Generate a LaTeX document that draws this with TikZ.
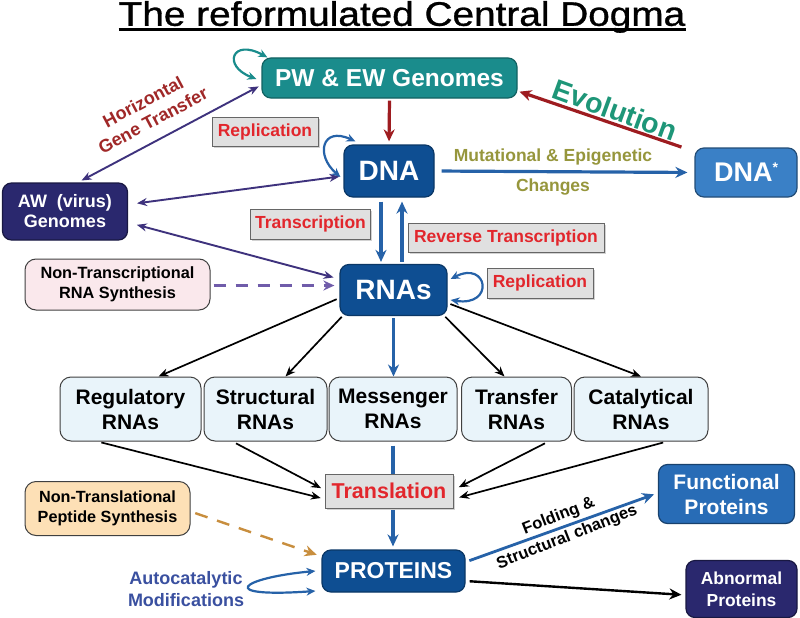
\documentclass[tikz,border=0pt]{standalone}
\usepackage{fontspec}
\setmainfont{Liberation Sans}
\newfontfamily\titlefont[FakeBold=0.9]{Liberation Sans}
\usetikzlibrary{arrows.meta,shadows}
\definecolor{tealc}{RGB}{26,140,140}
\definecolor{dblue}{RGB}{14,78,146}
\definecolor{lblue}{RGB}{58,128,198}
\definecolor{fblue}{RGB}{40,108,182}
\definecolor{navyc}{RGB}{42,40,110}
\definecolor{arrowblue}{RGB}{38,98,168}
\definecolor{darkredc}{RGB}{158,28,32}
\definecolor{purpc}{RGB}{62,50,125}
\definecolor{dashpurp}{RGB}{112,92,170}
\definecolor{dashor}{RGB}{200,142,62}
\definecolor{redtxt}{RGB}{226,38,44}
\definecolor{hgtc}{RGB}{160,40,40}
\definecolor{evoc}{RGB}{30,150,120}
\definecolor{olivec}{RGB}{150,150,60}
\definecolor{autoc}{RGB}{58,80,160}
\definecolor{rnafill}{RGB}{233,244,250}
\definecolor{pinkfill}{RGB}{250,232,236}
\definecolor{peachfill}{RGB}{253,224,182}
\begin{document}
\begin{tikzpicture}[x=1pt,y=-1pt,
  box/.style={draw, rounded corners=9pt, line width=1.2pt, text=white, align=center, inner sep=0pt},
  lab/.style={draw=black!60, fill=black!12, text=redtxt, font=\bfseries\fontsize{17.5}{20}\selectfont, line width=0.8pt, drop shadow={opacity=0.35,shadow xshift=1.8pt,shadow yshift=-1.8pt}, minimum height=29pt, inner sep=0pt},
  rbox/.style={draw=black!75, fill=rnafill, rounded corners=11pt, line width=1pt, font=\bfseries\fontsize{21}{25}\selectfont, align=center, minimum height=64pt, inner sep=0pt},
  side/.style={draw=black!75, rounded corners=11pt, line width=1pt, font=\bfseries\fontsize{16.3}{20}\selectfont, align=center, inner sep=0pt},
  bigarrow/.style={line width=3.2pt, -{Stealth[length=12pt,width=11pt]}},
  thinarrow/.style={line width=1.7pt, -{Stealth[length=10pt,width=8pt]}},
  dblarrow/.style={line width=1.9pt, {Stealth[length=10pt,width=8pt]}-{Stealth[length=10pt,width=8pt]}},
  looparrow/.style={line width=2.2pt, {Stealth[length=9pt,width=8pt]}-{Stealth[length=9pt,width=8pt]}}
]
\useasboundingbox (0,0) rectangle (800,618);
\fill[white] (0,0) rectangle (800,618);

% title
\node[font=\titlefont\fontsize{34}{40}\selectfont, inner sep=0pt] (title) at (402,17) {\scalebox{1.14}[1]{The reformulated Central Dogma}};
\draw[line width=2.6pt] ([yshift=-4pt]title.base west) -- ([yshift=-4pt]title.base east);

% main nodes
\node[box, fill=tealc, draw=tealc!70!black, minimum width=255pt, minimum height=40pt, font=\bfseries\fontsize{24.5}{28}\selectfont] (pw) at (389.5,78) {PW \& EW Genomes};
\node[box, fill=dblue, draw=dblue!70!black, minimum width=90pt, minimum height=52pt, font=\bfseries\fontsize{28}{30}\selectfont] (dna) at (389,171) {DNA};
\node[box, fill=lblue, draw=lblue!60!black, minimum width=102pt, minimum height=49pt, font=\bfseries\fontsize{27}{30}\selectfont] (dnas) at (746,172.5) {DNA\raisebox{9pt}{\fontsize{14}{14}\selectfont *}};
\node[box, fill=navyc, draw=navyc!60!black, minimum width=125pt, minimum height=57pt, font=\bfseries\fontsize{18}{20}\selectfont] (aw) at (65,211.5) {AW\ \ (virus)\\Genomes};
\node[box, fill=dblue, draw=dblue!70!black, minimum width=107pt, minimum height=51pt, font=\bfseries\fontsize{28}{30}\selectfont] (rna) at (393.5,290) {RNAs};
\node[side, fill=pinkfill, minimum width=185pt, minimum height=51pt] (ntr) at (117.5,284.5) {Non-Transcriptional\\RNA Synthesis};

% process labels
\node[lab, minimum width=106pt] (rep1) at (265,132) {Replication};
\node[lab, minimum width=120pt, minimum height=30pt] (trans) at (310.5,224) {Transcription};
\node[lab, minimum width=196pt] (rev) at (506,238) {Reverse Transcription};
\node[lab, minimum width=106pt, minimum height=30pt] (rep2) at (540,283) {Replication};

% RNA classes
\node[rbox, minimum width=141pt] (reg) at (130.5,409) {Regulatory\\RNAs};
\node[rbox, minimum width=123pt] (str) at (265.5,409) {Structural\\RNAs};
\node[rbox, minimum width=128pt] (mes) at (393,409) {Messenger\\RNAs};
\node[rbox, minimum width=110pt] (tra) at (516.5,409) {Transfer\\RNAs};
\node[rbox, minimum width=134pt] (cat) at (641,409) {Catalytical\\RNAs};

\node[lab, minimum width=128pt, minimum height=34pt, font=\bfseries\fontsize{21.5}{24}\selectfont] (transl) at (389,491) {Translation};
\node[box, fill=dblue, draw=dblue!70!black, minimum width=143pt, minimum height=42pt, font=\bfseries\fontsize{23}{26}\selectfont] (prot) at (393.5,571) {PROTEINS};
\node[side, fill=peachfill, minimum width=165pt, minimum height=54pt, font=\bfseries\fontsize{16.2}{20}\selectfont] (ntp) at (107.5,508.5) {Non-Translational\\Peptide Synthesis};
\node[box, fill=fblue, draw=fblue!60!black, minimum width=136pt, minimum height=59pt, font=\bfseries\fontsize{21}{25}\selectfont] (func) at (726.5,494) {Functional\\Proteins};
\node[box, fill=navyc, draw=navyc!60!black, minimum width=111pt, minimum height=57pt, font=\bfseries\fontsize{17.4}{22}\selectfont] (abn) at (741.5,589) {Abnormal\\Proteins};

% free labels
\node[rotate=28, text=hgtc, font=\bfseries\fontsize{18}{21}\selectfont, align=center, inner sep=0pt] (hgt) at (148,111) {Horizontal\\Gene Transfer};
\node[rotate=-20, text=evoc, font=\bfseries\fontsize{28.5}{30}\selectfont, inner sep=0pt] (evo) at (615,110) {Evolution};
\node[text=olivec, font=\bfseries\fontsize{17.5}{20}\selectfont, inner sep=0pt] (mut1) at (553,157) {Mutational \& Epigenetic};
\node[text=olivec, font=\bfseries\fontsize{17.5}{20}\selectfont, inner sep=0pt] (mut2) at (553,187) {Changes};
\node[rotate=21.5, font=\bfseries\fontsize{16.5}{23}\selectfont, align=center, inner sep=0pt] (fold) at (563,527) {Folding \&\\Structural changes};
\node[text=autoc, font=\bfseries\fontsize{18}{22}\selectfont, align=center, inner sep=0pt] (auto) at (186,589) {Autocatalytic\\Modifications};

% top connectors
\draw[bigarrow, darkredc, shorten <=2pt, shorten >=3pt] (pw.south) -- (dna.north);
\draw[bigarrow, darkredc, shorten <=1pt, shorten >=2pt] ([xshift=-12pt]dnas.north west) -- ([yshift=-13pt]pw.east);
\draw[bigarrow, arrowblue, shorten <=7pt, shorten >=7pt] (dna.east) -- (dnas.west);
\draw[dblarrow, purpc, shorten <=4pt, shorten >=3pt] ([xshift=13pt]aw.north) -- ([yshift=-7pt]pw.west);
\draw[dblarrow, purpc, shorten <=9pt, shorten >=4pt] ([yshift=7pt]aw.east) -- ([yshift=-5pt]dna.west);
\draw[dblarrow, purpc, shorten <=9pt, shorten >=6pt] ([yshift=-11pt]aw.east) -- ([yshift=11pt]rna.west);

% self loops
\draw[looparrow, tealc] ([xshift=-5pt,yshift=-1pt]pw.west) .. controls (222,66) and (232,38) .. ([xshift=6pt]pw.north west);
\draw[looparrow, arrowblue] ([xshift=-3pt,yshift=-6pt]dna.west) .. controls (315,155) and (322,126) .. ([xshift=12pt,yshift=3pt]dna.north west);
\draw[looparrow, arrowblue] ([xshift=3pt,yshift=11pt]rna.east) .. controls (488,260) and (495,307) .. ([xshift=3pt,yshift=-10pt]rna.east);

% DNA <-> RNA
\draw[bigarrow, arrowblue, shorten <=4pt, shorten >=2pt] ([xshift=-8pt]dna.south) -- ([xshift=-8pt]dna.south |- rna.north);
\draw[bigarrow, arrowblue, shorten <=2pt, shorten >=4pt] ([xshift=13pt]dna.south |- rna.north) -- ([xshift=13pt]dna.south);
\draw[line width=2.4pt, dashpurp, dash pattern=on 12pt off 10pt, -{Stealth[length=11pt,width=10pt]}, shorten <=3pt, shorten >=5pt] ([yshift=-1pt]ntr.east) -- ([yshift=-1pt]ntr.east -| rna.west);

% RNAs to classes
\draw[thinarrow, black, shorten <=3pt, shorten >=0pt] ([yshift=-8pt]rna.west) -- ([xshift=28pt]reg.north);
\draw[thinarrow, black, shorten <=1pt, shorten >=0pt] ([xshift=3pt]rna.south west) -- ([xshift=20pt]str.north);
\draw[bigarrow, arrowblue, shorten <=2pt, shorten >=0pt] (rna.south) -- (rna.south |- mes.north);
\draw[thinarrow, black, shorten <=1pt, shorten >=0pt] ([xshift=-3pt]rna.south east) -- ([xshift=-12pt]tra.north);
\draw[thinarrow, black, shorten <=3pt, shorten >=0pt] ([yshift=-13pt]rna.east) -- (cat.north);

% classes to translation
\draw[line width=3.2pt, arrowblue, shorten <=4pt] (mes.south) -- (mes.south |- transl.north);
\draw[thinarrow, black, shorten <=4pt, shorten >=4pt] ([xshift=-33pt]reg.south) -- ([yshift=-8pt]transl.west);
\draw[thinarrow, black, shorten <=4pt, shorten >=4pt] ([xshift=-33pt]str.south) -- ([yshift=1pt]transl.west);
\draw[thinarrow, black, shorten <=4pt, shorten >=6pt] ([xshift=32pt]tra.south) -- ([yshift=1pt]transl.east);
\draw[thinarrow, black, shorten <=4pt, shorten >=6pt] ([xshift=26pt]cat.south) -- ([yshift=-8pt]transl.east);

% translation to proteins
\draw[bigarrow, arrowblue, shorten <=2pt, shorten >=3pt] (mes.south |- transl.south) -- (mes.south |- prot.north);
\draw[line width=2.4pt, dashor, dash pattern=on 13pt off 10pt, -{Stealth[length=12pt,width=11pt]}, shorten <=5pt, shorten >=5pt] ([yshift=-3pt]ntp.east) -- ([yshift=-7pt]prot.north west);
\draw[looparrow, arrowblue] ([xshift=-6pt]prot.west) .. controls (240,578) and (215,598) .. ([xshift=-6pt,yshift=-20pt]prot.west);
\draw[bigarrow, arrowblue, line width=2.8pt, shorten <=4pt, shorten >=4pt] ([yshift=9pt]prot.east) -- ([yshift=1pt]func.west);
\draw[line width=2.4pt, black, -{Stealth[length=12pt,width=11pt]}, shorten <=4pt, shorten >=4pt] ([yshift=-10pt]prot.east) -- ([yshift=-6pt]abn.west);
\end{tikzpicture}
\end{document}
